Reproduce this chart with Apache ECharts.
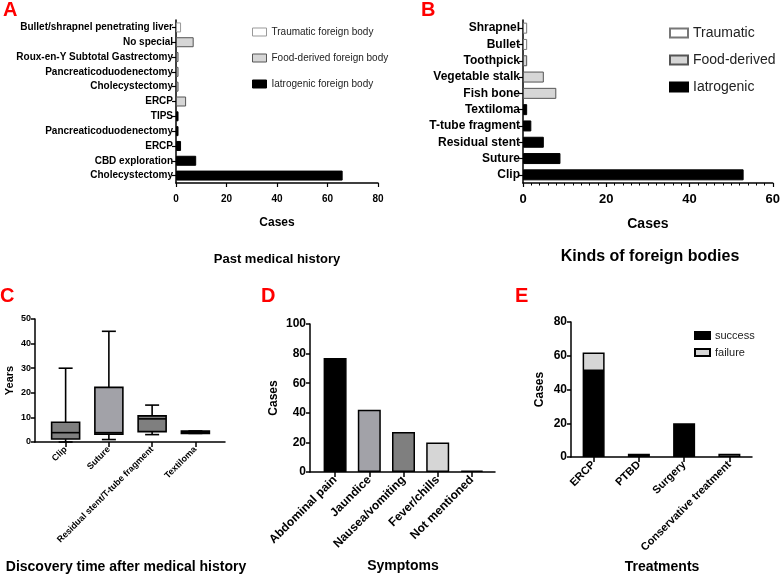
<!DOCTYPE html>
<html>
<head>
<meta charset="utf-8">
<script src="https://cdn.jsdelivr.net/npm/echarts@6/dist/echarts.min.js"></script>
<style>
  html, body { margin: 0; padding: 0; background: #fff; }
  #main { width: 783px; height: 576px; }
</style>
</head>
<body>
<div id="main"></div>
<script>
// A - past medical history (listed top to bottom)
var historyCats = ['Bullet/shrapnel penetrating liver', 'No special', 'Roux-en-Y Subtotal Gastrectomy',
  'Pancreaticoduodenectomy', 'Cholecystectomy', 'ERCP', 'TIPS', 'Pancreaticoduodenectomy',
  'ERCP', 'CBD exploration', 'Cholecystectomy'];
var historyTraumatic  = [2, '-', '-', '-', '-', '-', '-', '-', '-', '-', '-'];
var historyFood       = ['-', 7, 1, 1, 1, 4, '-', '-', '-', '-', '-'];
var historyIatrogenic = ['-', '-', '-', '-', '-', '-', 1, 1, 2, 8, 66];

// B - kinds of foreign bodies (top to bottom)
var kindCats = ['Shrapnel', 'Bullet', 'Toothpick', 'Vegetable stalk', 'Fish bone', 'Textiloma',
  'T-tube fragment', 'Residual stent', 'Suture', 'Clip'];
var kindTraumatic  = [1, 1, '-', '-', '-', '-', '-', '-', '-', '-'];
var kindFood       = ['-', '-', 1, 5, 8, '-', '-', '-', '-', '-'];
var kindIatrogenic = ['-', '-', '-', '-', '-', 1, 2, 5, 9, 53];

// C - discovery time (years), box plot
var boxCats = ['Clip', 'Suture', 'Residual stent/T-tube fragment', 'Textiloma'];
var boxMin = [0, 1, 3, 3.5];
var boxQ1  = [1.2, 3.2, 4.2, 3.5];
var boxMed = [3.8, 3.8, 9.4, 4];
var boxQ3  = [8, 22.2, 10.6, 4.5];
var boxMax = [30, 45, 15, 4.5];
var boxFill = ['#7f7f7f', '#a2a2a8', '#7f7f7f', '#000000'];

// D - symptoms
var symptomCats = ['Abdominal pain', 'Jaundice', 'Nausea/vomiting', 'Fever/chills', 'Not mentioned'];
var symptomCases = [77, 42, 27, 20, 1];
var symptomFill = ['#000000', '#a2a2a8', '#7f7f7f', '#d6d6d6', '#555555'];

// E - treatments
var treatCats = ['ERCP', 'PTBD', 'Surgery', 'Conservative treatment'];
var treatSuccess = [51, 2, 20, '-'];
var treatFailure = [11, '-', '-', 2];

var BOLD = 'bold';
var SANS = "'Liberation Sans', Arial, sans-serif";
var axisLine = { show: true, lineStyle: { color: '#000', width: 1.5 } };

var myChart = echarts.init(document.getElementById('main'));

function renderBox(params, api) {
  var i = api.value(0);
  var pMin = api.coord([i, api.value(1)]);
  var pQ1 = api.coord([i, api.value(2)]);
  var pMed = api.coord([i, api.value(3)]);
  var pQ3 = api.coord([i, api.value(4)]);
  var pMax = api.coord([i, api.value(5)]);
  var x = pMed[0], hw = 14, cw = 7;
  var st = { stroke: '#000', lineWidth: 1.6 };
  return {
    type: 'group',
    children: [
      { type: 'line', shape: { x1: x, y1: pQ3[1], x2: x, y2: pMax[1] }, style: st },
      { type: 'line', shape: { x1: x, y1: pQ1[1], x2: x, y2: pMin[1] }, style: st },
      { type: 'line', shape: { x1: x - cw, y1: pMax[1], x2: x + cw, y2: pMax[1] }, style: st },
      { type: 'line', shape: { x1: x - cw, y1: pMin[1], x2: x + cw, y2: pMin[1] }, style: st },
      { type: 'rect', shape: { x: x - hw, y: pQ3[1], width: hw * 2, height: pQ1[1] - pQ3[1] },
        style: { fill: boxFill[params.dataIndex], stroke: '#000', lineWidth: 1.6 } },
      { type: 'line', shape: { x1: x - hw, y1: pMed[1], x2: x + hw, y2: pMed[1] }, style: st }
    ]
  };
}

var boxData = boxCats.map(function (c, i) {
  return [i, boxMin[i], boxQ1[i], boxMed[i], boxQ3[i], boxMax[i]];
});

myChart.setOption({
  animation: false,
  textStyle: { fontFamily: SANS },
  legend: [
    {
      data: ['Traumatic foreign body', 'Food-derived foreign body', 'Iatrogenic foreign body'],
      orient: 'vertical', left: 247, top: 22, icon: 'rect',
      itemWidth: 14, itemHeight: 8, itemGap: 16, itemStyle: { borderWidth: 1 },
      textStyle: { fontSize: 10, color: '#222' }
    },
    {
      data: ['Traumatic', 'Food-derived', 'Iatrogenic'],
      orient: 'vertical', left: 664, top: 21, icon: 'rect',
      itemWidth: 18, itemHeight: 9, itemGap: 13,
      textStyle: { fontSize: 14, color: '#222' }
    },
    {
      data: ['success', 'failure'],
      orient: 'vertical', left: 689, top: 325, icon: 'rect',
      itemWidth: 15, itemHeight: 7, itemGap: 6,
      textStyle: { fontSize: 11, color: '#222' }
    }
  ],
  grid: [
    { left: 176, width: 202, top: 20, height: 163 },
    { left: 523, width: 253, top: 20, height: 163 },
    { left: 44, width: 173, top: 319, height: 123 },
    { left: 35, width: 190, top: 319, height: 123 },
    { left: 318, width: 171, top: 324, height: 148 },
    { left: 310, width: 185, top: 324, height: 148 },
    { left: 571, width: 181, top: 322, height: 135 }
  ],
  xAxis: [
    { gridIndex: 0, type: 'value', min: 0, max: 80, interval: 20, splitLine: { show: false },
      axisLine: axisLine, axisTick: { show: true, length: 4, lineStyle: { width: 1.2 } },
      axisLabel: { fontWeight: BOLD, fontSize: 10, color: '#000', margin: 11 },
      name: 'Cases', nameLocation: 'middle', nameGap: 34,
      nameTextStyle: { fontWeight: BOLD, fontSize: 12, color: '#000' } },
    { gridIndex: 1, type: 'value', min: 0, max: 60, interval: 20, splitLine: { show: false },
      axisLine: axisLine, axisTick: { show: true, length: 4, lineStyle: { width: 1.2 } },
      minorTick: { show: true, splitNumber: 10, length: 2.5, lineStyle: { color: '#000', width: 1 } },
      axisLabel: { fontWeight: BOLD, fontSize: 13, color: '#000', margin: 10 },
      name: 'Cases', nameLocation: 'middle', nameGap: 34,
      nameTextStyle: { fontWeight: BOLD, fontSize: 14, color: '#000' } },
    { gridIndex: 2, type: 'category', data: boxCats, axisLine: { show: false },
      axisTick: { show: true, alignWithLabel: true, length: 5, lineStyle: { color: '#000', width: 1.5 } },
      axisLabel: { rotate: 45, fontWeight: BOLD, fontSize: 9, color: '#000', margin: 6, interval: 0 } },
    { gridIndex: 3, type: 'value', min: 0, max: 1, axisLine: axisLine, axisTick: { show: false },
      axisLabel: { show: false }, splitLine: { show: false } },
    { gridIndex: 4, type: 'category', data: symptomCats, axisLine: { show: false },
      axisTick: { show: true, alignWithLabel: true, length: 5, lineStyle: { color: '#000', width: 1.5 } },
      axisLabel: { rotate: 45, fontWeight: BOLD, fontSize: 12, color: '#000', margin: 6, interval: 0 } },
    { gridIndex: 5, type: 'value', min: 0, max: 1, axisLine: axisLine, axisTick: { show: false },
      axisLabel: { show: false }, splitLine: { show: false } },
    { gridIndex: 6, type: 'category', data: treatCats, axisLine: axisLine,
      axisTick: { show: true, alignWithLabel: true, length: 5, lineStyle: { color: '#000', width: 1.5 } },
      axisLabel: { rotate: 45, fontWeight: BOLD, fontSize: 11, color: '#000', margin: 6, interval: 0 } }
  ],
  yAxis: [
    { gridIndex: 0, type: 'category', inverse: true, data: historyCats, axisLine: axisLine,
      axisTick: { show: true, alignWithLabel: true, length: 4, lineStyle: { width: 1.2 } },
      axisLabel: { fontWeight: BOLD, fontSize: 10, color: '#000', margin: 3, interval: 0 } },
    { gridIndex: 1, type: 'category', inverse: true, data: kindCats, axisLine: axisLine,
      axisTick: { show: true, alignWithLabel: true, length: 4, lineStyle: { width: 1.2 } },
      axisLabel: { fontWeight: BOLD, fontSize: 12, color: '#000', margin: 3, interval: 0 } },
    { gridIndex: 2, type: 'value', min: 0, max: 50, interval: 10, offset: 9, splitLine: { show: false },
      axisLine: axisLine, axisTick: { show: true, length: 4, lineStyle: { width: 1.5 } },
      axisLabel: { fontWeight: BOLD, fontSize: 9, color: '#000', margin: 4 },
      name: 'Years', nameLocation: 'middle', nameGap: 20,
      nameTextStyle: { fontWeight: BOLD, fontSize: 11, color: '#000' } },
    { gridIndex: 3, type: 'value', show: false, min: 0, max: 1 },
    { gridIndex: 4, type: 'value', min: 0, max: 100, interval: 20, offset: 8, splitLine: { show: false },
      axisLine: axisLine, axisTick: { show: true, length: 4, lineStyle: { width: 1.5 } },
      axisLabel: { fontWeight: BOLD, fontSize: 12, color: '#000', margin: 4 },
      name: 'Cases', nameLocation: 'middle', nameGap: 30,
      nameTextStyle: { fontWeight: BOLD, fontSize: 12, color: '#000' } },
    { gridIndex: 5, type: 'value', show: false, min: 0, max: 1 },
    { gridIndex: 6, type: 'value', min: 0, max: 80, interval: 20, splitLine: { show: false },
      axisLine: axisLine, axisTick: { show: true, length: 4, lineStyle: { width: 1.5 } },
      axisLabel: { fontWeight: BOLD, fontSize: 12, color: '#000', margin: 4 },
      name: 'Cases', nameLocation: 'middle', nameGap: 25,
      nameTextStyle: { fontWeight: BOLD, fontSize: 12, color: '#000' } }
  ],
  series: [
    { name: 'Traumatic foreign body', type: 'bar', xAxisIndex: 0, yAxisIndex: 0, stack: 'a', barWidth: 10,
      data: historyTraumatic, itemStyle: { color: '#fff', borderColor: '#999', borderWidth: 1 } },
    { name: 'Food-derived foreign body', type: 'bar', xAxisIndex: 0, yAxisIndex: 0, stack: 'a', barWidth: 10,
      data: historyFood, itemStyle: { color: '#d6d6d6', borderColor: '#555', borderWidth: 1 } },
    { name: 'Iatrogenic foreign body', type: 'bar', xAxisIndex: 0, yAxisIndex: 0, stack: 'a', barWidth: 10,
      data: historyIatrogenic, itemStyle: { color: '#000', borderColor: '#000', borderWidth: 1 } },

    { name: 'Traumatic', type: 'bar', xAxisIndex: 1, yAxisIndex: 1, stack: 'b', barWidth: 11,
      data: kindTraumatic, itemStyle: { color: '#fff', borderColor: '#777', borderWidth: 1 } },
    { name: 'Food-derived', type: 'bar', xAxisIndex: 1, yAxisIndex: 1, stack: 'b', barWidth: 11,
      data: kindFood, itemStyle: { color: '#d6d6d6', borderColor: '#555', borderWidth: 1 } },
    { name: 'Iatrogenic', type: 'bar', xAxisIndex: 1, yAxisIndex: 1, stack: 'b', barWidth: 11,
      data: kindIatrogenic, itemStyle: { color: '#000', borderColor: '#000', borderWidth: 1 } },

    { type: 'custom', xAxisIndex: 2, yAxisIndex: 2, renderItem: renderBox,
      encode: { x: 0, y: [1, 2, 3, 4, 5] }, data: boxData },

    { type: 'bar', xAxisIndex: 4, yAxisIndex: 4, barWidth: 23,
      data: symptomCases.map(function (v, i) {
        return { value: v, itemStyle: { color: symptomFill[i] } };
      }),
      itemStyle: { borderColor: '#000', borderWidth: 1.5 } },

    { name: 'success', type: 'bar', xAxisIndex: 6, yAxisIndex: 6, stack: 'e', barWidth: 22,
      data: treatSuccess, itemStyle: { color: '#000', borderColor: '#000', borderWidth: 1.5 } },
    { name: 'failure', type: 'bar', xAxisIndex: 6, yAxisIndex: 6, stack: 'e', barWidth: 22,
      data: treatFailure, itemStyle: { color: '#d6d6d6', borderColor: '#000', borderWidth: 1.5 } }
  ],
  graphic: [
    { type: 'text', left: 3, top: 0, style: { text: 'A', fill: '#ff0000', font: 'bold 20px ' + SANS } },
    { type: 'text', left: 421, top: 0, style: { text: 'B', fill: '#ff0000', font: 'bold 20px ' + SANS } },
    { type: 'text', left: 0, top: 286, style: { text: 'C', fill: '#ff0000', font: 'bold 20px ' + SANS } },
    { type: 'text', left: 261, top: 286, style: { text: 'D', fill: '#ff0000', font: 'bold 20px ' + SANS } },
    { type: 'text', left: 515, top: 286, style: { text: 'E', fill: '#ff0000', font: 'bold 20px ' + SANS } },
    { type: 'text', x: 277, y: 259, style: { text: 'Past medical history', fill: '#000',
      font: 'bold 13px ' + SANS, textAlign: 'center', textVerticalAlign: 'middle' } },
    { type: 'text', x: 650, y: 257, style: { text: 'Kinds of foreign bodies', fill: '#000',
      font: 'bold 16px ' + SANS, textAlign: 'center', textVerticalAlign: 'middle' } },
    { type: 'text', x: 126, y: 567, style: { text: 'Discovery time after medical history', fill: '#000',
      font: 'bold 14px ' + SANS, textAlign: 'center', textVerticalAlign: 'middle' } },
    { type: 'text', x: 403, y: 566, style: { text: 'Symptoms', fill: '#000',
      font: 'bold 14px ' + SANS, textAlign: 'center', textVerticalAlign: 'middle' } },
    { type: 'text', x: 662, y: 567, style: { text: 'Treatments', fill: '#000',
      font: 'bold 14px ' + SANS, textAlign: 'center', textVerticalAlign: 'middle' } }
  ]
});
</script>
</body>
</html>
